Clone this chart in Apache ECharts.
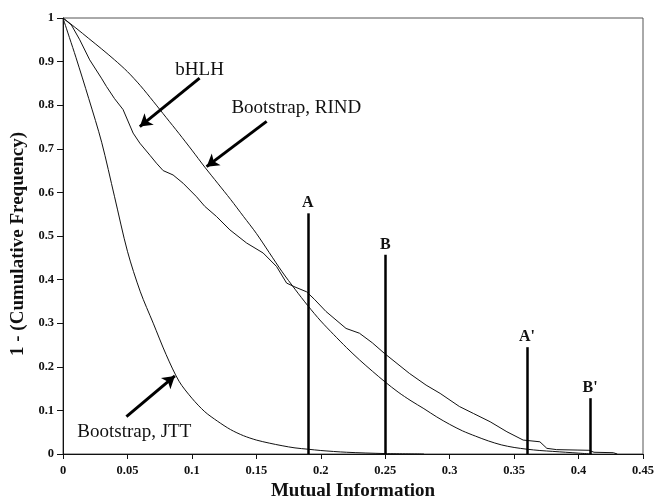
<!DOCTYPE html>
<html><head><meta charset="utf-8">
<script src="https://cdn.jsdelivr.net/npm/echarts@6/dist/echarts.min.js"></script>
<style>html,body{margin:0;padding:0;background:#fff}#c{width:656px;height:500px}</style>
</head><body><div id="c"></div>
<script>
// x ticks / y ticks
const xTicks = [0, 0.05, 0.1, 0.15, 0.2, 0.25, 0.3, 0.35, 0.4, 0.45];
const yTicks = [0, 0.1, 0.2, 0.3, 0.4, 0.5, 0.6, 0.7, 0.8, 0.9, 1];

// Bootstrap, RIND
const rindX = [0,0.01,0.02,0.03,0.04,0.05,0.06,0.07,0.08,0.09,0.1,0.11,0.12,0.13,0.14,0.15,0.16,0.17,0.18,0.19,0.2,0.21,0.22,0.23,0.24,0.25,0.26,0.27,0.28,0.29,0.3,0.31,0.32,0.33,0.34,0.35,0.36,0.37,0.38,0.39,0.4,0.41];
const rindY = [1,0.977,0.953,0.929,0.904,0.877,0.845,0.809,0.772,0.735,0.697,0.658,0.621,0.584,0.545,0.506,0.462,0.418,0.378,0.34,0.305,0.274,0.244,0.216,0.19,0.165,0.142,0.122,0.104,0.085,0.068,0.053,0.041,0.03,0.021,0.015,0.011,0.008,0.006,0.004,0.002,0];

// bHLH (observed)
const bhlhX = [0,0.0065,0.013,0.0207,0.0298,0.0337,0.04,0.0466,0.0544,0.0596,0.0675,0.0725,0.0777,0.0854,0.0932,0.1036,0.11,0.119,0.1295,0.1424,0.1553,0.1657,0.1735,0.18,0.189,0.195,0.204,0.2196,0.23,0.24,0.2493,0.2687,0.2817,0.2926,0.3075,0.3184,0.3314,0.3444,0.357,0.37,0.3754,0.383,0.3995,0.408,0.412,0.427,0.43];
const bhlhY = [1,0.984,0.95,0.904,0.862,0.843,0.815,0.79,0.736,0.713,0.685,0.667,0.65,0.64,0.621,0.59,0.568,0.545,0.514,0.484,0.461,0.43,0.392,0.383,0.372,0.355,0.327,0.288,0.277,0.255,0.231,0.185,0.158,0.139,0.109,0.093,0.074,0.051,0.032,0.028,0.013,0.01,0.009,0.0085,0.004,0.003,0];

// Bootstrap, JTT
const jttX = [0,0.005,0.01,0.02,0.03,0.04,0.05,0.06,0.07,0.08,0.09,0.1,0.11,0.12,0.13,0.14,0.15,0.16,0.17,0.18,0.19,0.2,0.22,0.25,0.28];
const jttY = [1,0.955,0.91,0.815,0.715,0.59,0.465,0.372,0.3,0.228,0.167,0.128,0.097,0.075,0.056,0.042,0.032,0.025,0.019,0.014,0.011,0.008,0.004,0.001,0];

// Observed values
const markNames = ['A', 'B', "A'", "B'"];
const markX = [0.19, 0.25, 0.36, 0.409];
const markH = [0.552, 0.457, 0.245, 0.128];

// Annotations
const annoText = ['bHLH', 'Bootstrap, RIND', 'Bootstrap, JTT'];
const annoAt = [[0.106, 0.881], [0.181, 0.794], [0.0553, 0.051]];
const arrowFrom = [[0.106, 0.862], [0.158, 0.763], [0.0492, 0.0857]];
const arrowTo = [[0.0596, 0.751], [0.1114, 0.659], [0.0868, 0.179]];

const pairs = (xs, ys) => xs.map((x, i) => [x, ys[i]]);
const SERIF = '"Liberation Serif","DejaVu Serif",serif';
const lineCol = '#111';

const chart = echarts.init(document.getElementById('c'), null, {renderer: 'canvas'});
chart.setOption({
  animation: false,
  backgroundColor: '#fff',
  grid: {left: 63, right: 13, top: 18, bottom: 46, show: true, borderColor: '#555', borderWidth: 1,
    containLabel: false, outerBoundsMode: 'none'},
  xAxis: {
    type: 'value', min: 0, max: 0.45, interval: 0.05,
    name: 'Mutual Information', nameLocation: 'middle', nameGap: 27,
    nameTextStyle: {fontFamily: SERIF, fontWeight: 'bold', fontSize: 19, color: '#111'},
    axisLine: {lineStyle: {color: '#111', width: 1}},
    axisTick: {show: true, length: 5, lineStyle: {color: '#111'}},
    axisLabel: {fontFamily: SERIF, fontWeight: 'bold', fontSize: 12.5, color: '#111', margin: 10,
      formatter: v => { const t = xTicks.find(k => Math.abs(k - v) < 1e-9); return t === undefined ? '' : String(t); }},
    splitLine: {show: false}
  },
  yAxis: {
    type: 'value', min: 0, max: 1, interval: 0.1,
    name: '1 - (Cumulative Frequency)', nameLocation: 'middle', nameGap: 33,
    nameTextStyle: {fontFamily: SERIF, fontWeight: 'bold', fontSize: 19, color: '#111', padding: [0, 16, 0, 0]},
    axisLine: {show: true, lineStyle: {color: '#111', width: 1}},
    axisTick: {show: true, length: 6, lineStyle: {color: '#111'}},
    axisLabel: {fontFamily: SERIF, fontWeight: 'bold', fontSize: 12.5, color: '#111', margin: 9,
      formatter: v => { const t = yTicks.find(k => Math.abs(k - v) < 1e-9); return t === undefined ? '' : String(t); }},
    splitLine: {show: false}
  },
  series: [
    {
      name: 'Bootstrap, RIND', type: 'line', data: pairs(rindX, rindY), showSymbol: false, smooth: 0.3,
      lineStyle: {color: lineCol, width: 1}, silent: true,
      markLine: {
        silent: true, symbol: ['none', 'arrow'], symbolSize: [11, 12],
        lineStyle: {color: '#000', width: 3, type: 'solid'}, label: {show: false},
        data: arrowFrom.map((f, i) => [{coord: f}, {coord: arrowTo[i]}])
      },
      markPoint: {
        silent: true, symbol: 'circle', symbolSize: 0,
        label: {show: true, fontFamily: SERIF, fontSize: 19, color: '#111', position: 'inside'},
        data: annoText.map((t, i) => ({coord: annoAt[i], value: t, label: {formatter: t}}))
      }
    },
    {
      name: 'bHLH', type: 'line', data: pairs(bhlhX, bhlhY), showSymbol: false,
      lineStyle: {color: lineCol, width: 1}, silent: true,
      markLine: {
        silent: true, symbol: ['none', 'none'],
        lineStyle: {color: '#000', width: 2.5, type: 'solid'},
        label: {show: true, position: 'end', distance: 2, fontFamily: SERIF, fontWeight: 'bold', fontSize: 16, color: '#111'},
        data: markNames.map((n, i) => [{coord: [markX[i], 0]}, {coord: [markX[i], markH[i]], label: {formatter: n}}])
      }
    },
    {
      name: 'Bootstrap, JTT', type: 'line', data: pairs(jttX, jttY), showSymbol: false, smooth: 0.3,
      lineStyle: {color: lineCol, width: 1}, silent: true
    }
  ]
});
</script></body></html>
